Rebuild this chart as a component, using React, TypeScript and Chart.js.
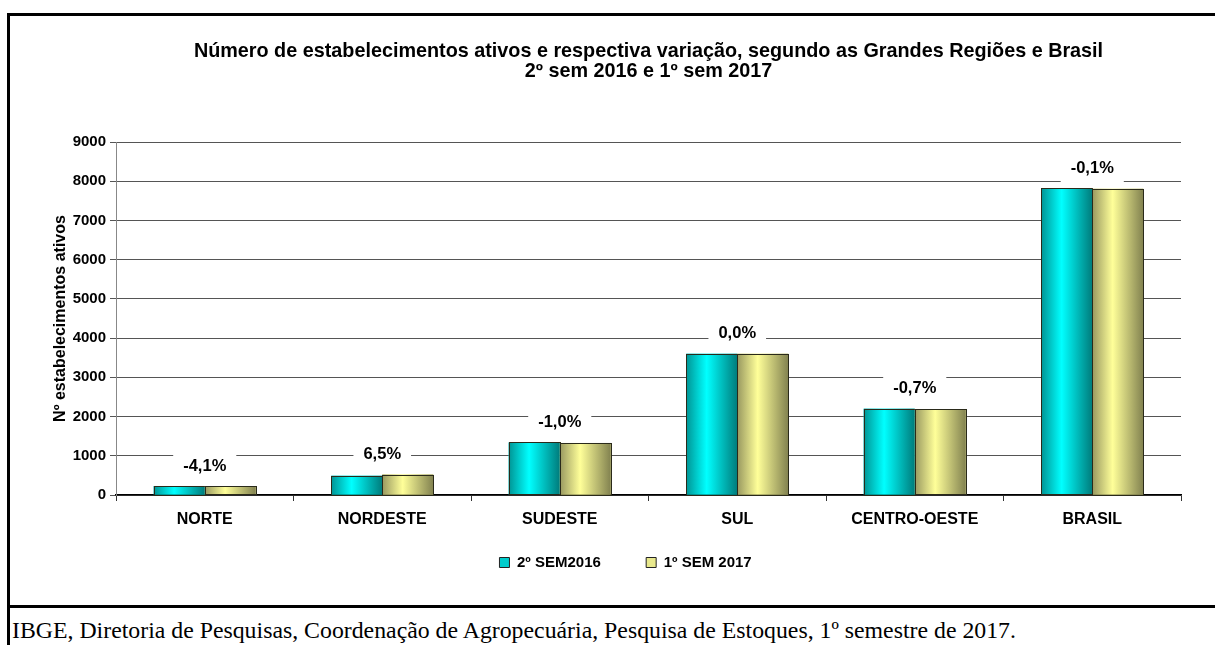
import { useEffect, useRef } from 'react';
import { Chart, registerables } from 'chart.js';

Chart.register(...registerables);

const categories = ['NORTE', 'NORDESTE', 'SUDESTE', 'SUL', 'CENTRO-OESTE', 'BRASIL'];
const sem2016 = [230, 490, 1340, 3600, 2200, 7815];
const sem2017 = [220, 522, 1327, 3600, 2185, 7807];
const variation = ['-4,1%', '6,5%', '-1,0%', '0,0%', '-0,7%', '-0,1%'];
const seriesLabels = ['2º SEM2016', '1º SEM 2017'];
const titleLines = [
  'Número de estabelecimentos ativos e respectiva variação, segundo as Grandes Regiões e Brasil',
  '2º sem 2016 e 1º sem 2017',
];
const yAxisTitle = 'Nº estabelecimentos ativos';
const footerText = 'IBGE, Diretoria de Pesquisas, Coordenação de Agropecuária, Pesquisa de Estoques, 1º semestre de 2017.';

const FONT = "'Liberation Sans', Arial, sans-serif";

const gradientStops = [
  [['0', '#009494'], ['0.4', '#00FFFF'], ['1', '#007C7C']],
  [['0', '#989860'], ['0.4', '#FFFF99'], ['1', '#828250']],
];
const legendFill = ['#00CCCC', '#E8E88C'];

const barPlugin = {
  id: 'gradBarsAndLabels',
  afterDatasetsDraw(chart: any) {
    const ctx = chart.ctx;
    ctx.save();
    chart.data.datasets.forEach((_ds: any, di: number) => {
      const meta = chart.getDatasetMeta(di);
      meta.data.forEach((el: any) => {
        const { x, y, base, width } = el.getProps(['x', 'y', 'base', 'width'], true);
        const left = x - width / 2;
        const g = ctx.createLinearGradient(left, 0, left + width, 0);
        gradientStops[di].forEach(([o, c]) => g.addColorStop(parseFloat(o), c));
        ctx.fillStyle = g;
        ctx.fillRect(left, y, width, base - y);
        ctx.strokeStyle = '#2a2a1a';
        ctx.lineWidth = 1;
        ctx.strokeRect(Math.round(left) + 0.5, Math.round(y) + 0.5, Math.round(width), Math.round(base - y));
      });
    });
    const xs = chart.scales.x;
    const ys = chart.scales.y;
    ctx.font = `bold 16.5px ${FONT}`;
    ctx.textAlign = 'center';
    ctx.textBaseline = 'middle';
    categories.forEach((_c, i) => {
      const cx = xs.getPixelForValue(i);
      const top = ys.getPixelForValue(Math.max(sem2016[i], sem2017[i]));
      const cy = top - 20;
      const w = ctx.measureText(variation[i]).width + 20;
      ctx.fillStyle = '#ffffff';
      ctx.fillRect(cx - w / 2, cy - 15, w, 30);
      ctx.fillStyle = '#000000';
      ctx.fillText(variation[i], cx, cy);
    });
    ctx.restore();
  },
};

export default function App() {
  const ref = useRef<HTMLCanvasElement | null>(null);
  useEffect(() => {
    if (!ref.current) return;
    const chart = new Chart(ref.current, {
      type: 'bar',
      data: {
        labels: categories,
        datasets: [
          { label: seriesLabels[0], data: sem2016, backgroundColor: legendFill[0], borderWidth: 0, categoryPercentage: 0.575, barPercentage: 1 },
          { label: seriesLabels[1], data: sem2017, backgroundColor: legendFill[1], borderWidth: 0, categoryPercentage: 0.575, barPercentage: 1 },
        ],
      },
      options: {
        responsive: false,
        animation: false,
        layout: { padding: { left: 40, right: 34, top: 0, bottom: 24 } },
        plugins: {
          tooltip: { enabled: false },
          title: {
            display: true,
            text: titleLines,
            fullSize: false,
            color: '#000',
            font: { family: FONT, size: 19.8, weight: 'bold', lineHeight: '20px' },
            padding: { top: 42, bottom: 60 },
          },
          legend: {
            position: 'bottom',
            fullSize: false,
            labels: {
              color: '#000',
              font: { family: FONT, size: 15, weight: 'bold' },
              boxWidth: 10,
              boxHeight: 10,
              padding: 12,
              generateLabels: () =>
                seriesLabels.map((t, i) => ({
                  text: i === 0 ? t + '        ' : t + '           ',
                  fillStyle: legendFill[i],
                  strokeStyle: '#222',
                  lineWidth: 1,
                  datasetIndex: i,
                  hidden: false,
                })),
            },
          },
        },
        scales: {
          x: {
            offset: true,
            grid: { display: true, drawOnChartArea: false, offset: true, drawTicks: true, tickLength: 6, color: '#333' },
            border: { display: true, color: '#000', width: 1.5 },
            ticks: { color: '#000', font: { family: FONT, size: 16, weight: 'bold' }, padding: 9, maxRotation: 0 },
            afterFit: (s: any) => { s.height = 48; },
          },
          y: {
            min: 0,
            max: 9000,
            grid: { color: '#555', tickLength: 6 },
            border: { display: true, color: '#888' },
            ticks: {
              stepSize: 1000,
              color: '#000',
              font: { family: FONT, size: 15, weight: 'bold' },
              padding: 4,
              callback: (v: any) => String(v),
            },
            title: {
              display: true,
              text: yAxisTitle,
              color: '#000',
              font: { family: FONT, size: 16, weight: 'bold', lineHeight: 1.2 },
              padding: { top: 11, bottom: 0 },
            },
            afterFit: (s: any) => { s.width = 76; },
          },
        },
      },
      plugins: [barPlugin],
    });
    return () => chart.destroy();
  }, []);

  return (
    <div style={{ position: 'absolute', left: 0, top: 0, width: 1215, height: 645, overflow: 'hidden', background: '#fff' }}>
      <div style={{ position: 'absolute', left: 7, top: 13, width: 1400, height: 800, border: '3px solid #000', boxSizing: 'border-box' }} />
      <div style={{ position: 'absolute', left: 7, top: 605, width: 1400, height: 3, background: '#000' }} />
      <canvas ref={ref} width={1215} height={604} style={{ position: 'absolute', left: 0, top: 0, width: 1215, height: 604 }} />
      <div style={{ position: 'absolute', left: 12, top: 617, whiteSpace: 'nowrap', fontFamily: "'Liberation Serif', 'Times New Roman', serif", fontSize: 23.8, color: '#000' }}>
        {footerText}
      </div>
    </div>
  );
}
